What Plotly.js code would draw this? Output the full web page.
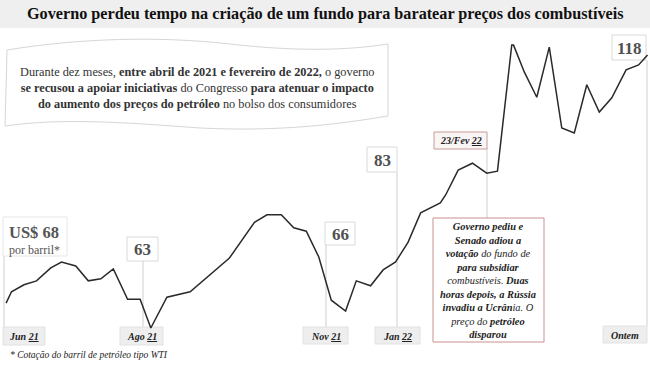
<!DOCTYPE html>
<html><head><meta charset="utf-8">
<script src="https://cdn.plot.ly/plotly-3.0.1.min.js"></script>
<style>html,body{margin:0;padding:0;background:#fff}#c{width:650px;height:366px}</style>
</head><body>
<div id="c"></div>
<script>
const dates = ['2021-05-30','2021-06-02','2021-06-09','2021-06-16','2021-06-24','2021-06-30','2021-07-08','2021-07-15','2021-07-22','2021-07-29','2021-08-06','2021-08-13','2021-08-19','2021-08-28','2021-09-10','2021-09-26','2021-10-02','2021-10-16','2021-10-23','2021-10-31','2021-11-07','2021-11-14','2021-11-21','2021-11-28','2021-12-06','2021-12-12','2021-12-20','2021-12-27','2022-01-03','2022-01-10','2022-01-17','2022-01-28','2022-01-31','2022-02-07','2022-02-15','2022-02-23','2022-03-01','2022-03-09','2022-03-10','2022-03-16','2022-03-23','2022-03-30','2022-04-06','2022-04-13','2022-04-20','2022-04-27','2022-05-04','2022-05-12','2022-05-19','2022-05-24'];
const prices = [68.0,70.3,71.7,72.5,75.1,76.3,75.5,72.5,72.9,74.9,68.8,68.8,63.0,69.2,70.3,75.3,77.1,84.3,85.8,85.8,83.2,82.5,77.3,68.6,66.4,72.5,71.5,74.7,76.3,80.3,86.2,88.2,89.8,94.8,96.2,94.2,94.6,120.0,120.0,114.6,109.5,119.6,103.3,102.3,112.0,106.5,109.4,115.0,116.0,118.0];

const tickLabels = ['Jun 21','Ago 21','Nov 21','Jan 22','Ontem'];
const calloutValues = ['63','66','83','118'];
const startLabel = 'US$ 68';

const W = 650, H = 366;
const X = p => p / W;
const Y = p => (H - p) / H;
const SERIF = 'Liberation Serif';

const shapes = [];
const ann = [];
function rect(x0,y0,x1,y1,line,fill,layer){
  shapes.push({type:'rect',xref:'paper',yref:'paper',x0:X(x0),x1:X(x1),y0:Y(y1),y1:Y(y0),
    line:{color:line,width:line?1:0},fillcolor:fill,layer:layer||'below'});
}
function vline(x,y0,y1){
  shapes.push({type:'line',xref:'paper',yref:'paper',x0:X(x),x1:X(x),y0:Y(y1),y1:Y(y0),
    line:{color:'#cfcfcf',width:1},layer:'below'});
}
function addText(t,x,y,size,color,opts){
  ann.push(Object.assign({xref:'paper',yref:'paper',x:X(x),y:Y(y),text:t,showarrow:false,
    xanchor:'center',yanchor:'middle',font:{family:SERIF,size:size,color:color}},opts||{}));
}

// title band
rect(0,0,650,28,null,'#efefef');
addText('<b>Governo perdeu tempo na criação de um fundo para baratear preços dos combustíveis</b>',325,14,16.2,'#111');

// wavy intro box
function pt(x,y){return X(x).toFixed(4)+','+Y(y).toFixed(4);}
shapes.push({type:'path',xref:'paper',yref:'paper',layer:'below',
  path:'M'+pt(7,50)+' C'+pt(80,38)+' '+pt(160,36)+' '+pt(230,44)+' C'+pt(300,52)+' '+pt(350,50)+' '+pt(388,44)+
       ' L'+pt(388,116)+' C'+pt(340,124)+' '+pt(280,132)+' '+pt(200,128)+' C'+pt(120,122)+' '+pt(60,118)+' '+pt(5,126)+' Z',
  line:{color:'#d6d6d6',width:1},fillcolor:'#ffffff'});
addText('Durante dez meses, <b>entre abril de 2021 e fevereiro de 2022,</b> o governo<br><b>se recusou a apoiar iniciativas</b> do Congresso <b>para atenuar o impacto</b><br><b>do aumento dos preços do petróleo</b> no bolso dos consumidores',197,88,12.3,'#333');

// vertical markers
vline(4,255,328);
vline(143,260,328);
vline(326,243,327);
vline(397,172,327);
vline(487,148,218);
vline(647,60,326);

// start label box
rect(3,217,67,256,'#e6e6e6','#ffffff');
addText('<b>'+startLabel+'</b>',7,232,16.5,'#555',{xanchor:'left'});
addText('por barril*',7,250,12,'#555',{xanchor:'left'});

// value callouts
const cb = [[127,237,158,261],[325,222,355,245],[367,147,397,172],[612,35,646,60]];
calloutValues.forEach((v,i)=>{
  const b = cb[i];
  rect(b[0],b[1],b[2],b[3],'#dadada','#ffffff');
  addText('<b>'+v+'</b>',(b[0]+b[2])/2,(b[1]+b[3])/2+0.5,17,'#505050');
});

// bottom tick boxes
const tb = [[3,327,45,345],[120,327,163,345],[303,327,348,344],[375,327,420,344],[603,326,647,343]];
tickLabels.forEach((t,i)=>{
  const b = tb[i];
  rect(b[0],b[1],b[2],b[3],'#e2e2e2','#eeeeee');
  const parts = t.split(' ');
  const lab = parts.length>1 ? parts[0]+' <span style="text-decoration:underline">'+parts[1]+'</span>' : t;
  addText('<b><i>'+lab+'</i></b>',(b[0]+b[2])/2,(b[1]+b[3])/2+0.5,10,'#222');
});

// 23/Fev box
rect(434,132,487,149,'#c99a9a','#faf5f5');
addText('<b><i>23/Fev <span style="text-decoration:underline">22</span></i></b>',460.5,140.5,10,'#222');

// event text box
rect(433,218,544,342,'#c98f8f','#ffffff');
addText('<i><b>Governo pediu e</b><br><b>Senado adiou a</b><br><b>votação</b> do fundo de<br><b>para subsidiar</b><br>combustíveis. <b>Duas</b><br><b>horas depois, a Rússia</b><br><b>invadiu a Ucrân</b>ia. O<br>preço do <b>petróleo</b><br><b>disparou</b></i>',488.5,280,10.4,'#222');

// footnote
addText('<i>* Cotação do barril de petróleo tipo WTI</i>',8,355,9.5,'#222',{xanchor:'left'});

const data = [{x:dates,y:prices,type:'scatter',mode:'lines',line:{color:'#2a2a2a',width:1.5},hoverinfo:'skip'}];

const layout = {
  width:W,height:H,margin:{l:0,r:0,t:0,b:0},paper_bgcolor:'#fff',plot_bgcolor:'rgba(0,0,0,0)',
  showlegend:false,font:{family:SERIF},
  xaxis:{type:'date',range:['2021-05-26 14:00','2022-05-25 09:00'],visible:false,fixedrange:true},
  yaxis:{range:[55.34,129.09],visible:false,fixedrange:true},
  shapes:shapes,annotations:ann
};
Plotly.newPlot('c',data,layout,{displayModeBar:false,staticPlot:true});
</script>
</body></html>
